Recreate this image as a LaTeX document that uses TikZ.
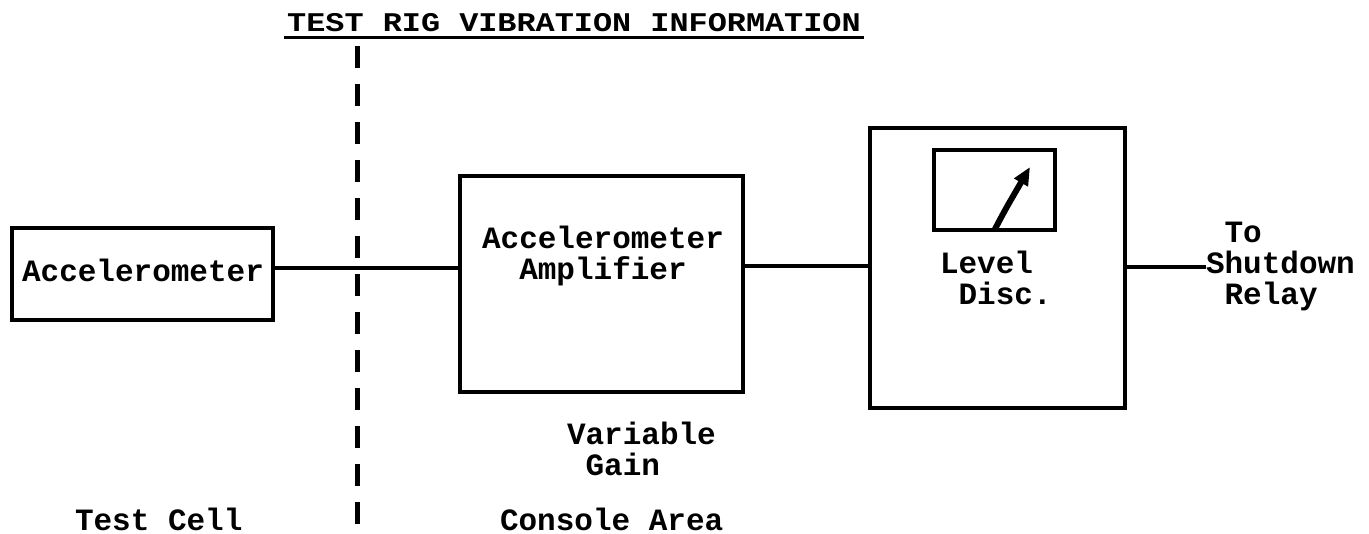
\documentclass[tikz,border=0pt]{standalone}
\usepackage{fontspec}
\newfontfamily\tw{Liberation Mono}
\usetikzlibrary{arrows.meta}
\begin{document}
\begin{tikzpicture}[x=1pt,y=-1pt,
  lbl/.style={font=\tw\bfseries\fontsize{31}{31}\selectfont, inner sep=0pt, outer sep=0pt},
  blk/.style={draw, line width=4.5pt, inner sep=0pt, outer sep=0pt},
  wire/.style={line width=4pt},
  sep/.style={line width=5pt, dash pattern=on 22pt off 16pt},
]
\useasboundingbox (0,0) rectangle (1369,534);

% title with underline
\node[lbl, font=\tw\bfseries\fontsize{27}{27}\selectfont, anchor=base] (title) at (574,32)
  {\scalebox{1.18}[1]{TEST RIG VIBRATION INFORMATION}};
\draw[line width=3pt] ([xshift=-3pt,yshift=-6pt]title.base west) -- ([xshift=3pt,yshift=-6pt]title.base east);

% boundary between test cell and console
\coordinate (dtop) at (357,46);
\coordinate (dbot) at (357,534);
\draw[sep] (dtop) -- (dbot);

% blocks
\node[blk, minimum width=261pt, minimum height=92pt] (accel) at (142.5,274) {};
\node[lbl] (acceltext) at (143,270) {Accelerometer};

\node[blk, minimum width=283pt, minimum height=216pt] (amp) at (601.5,284) {};
\node[lbl, align=center] (amptext) at (603,256) {Accelerometer\\Amplifier};

\node[blk, minimum width=255pt, minimum height=280pt] (level) at (997.5,268) {};
\node[blk, minimum width=121pt, minimum height=80pt] (meter) at (994.5,190) {};
\coordinate (tip) at (1030,167);
\draw[line width=6pt, -{Triangle[length=18pt,width=15pt]}] (meter.south) .. controls (1005,210) .. (tip);
\node[lbl, align=left, anchor=north west] (leveltext) at (940,251) {Level\\\hphantom{L}Disc.};

\node[lbl, align=left, anchor=west] (relay) at (1206,267) {\hphantom{S}To\\Shutdown\\\hphantom{S}Relay};

% signal path
\coordinate (w1) at (0,268);
\coordinate (w2) at (0,266);
\draw[wire] (accel.east |- w1) -- (amp.west |- w1);
\draw[wire] (amp.east |- w2) -- (level.west |- w2);
\draw[wire] (level.east |- relay.west) -- (relay.west);

% annotations
\node[lbl, align=left, anchor=north west] (gain) at (567,422) {Variable\\\hphantom{V}Gain};
\node[lbl, anchor=base west] (cell) at (75,530) {Test Cell};
\node[lbl, anchor=base west] (console) at (500,530) {Console Area};
\end{tikzpicture}
\end{document}
